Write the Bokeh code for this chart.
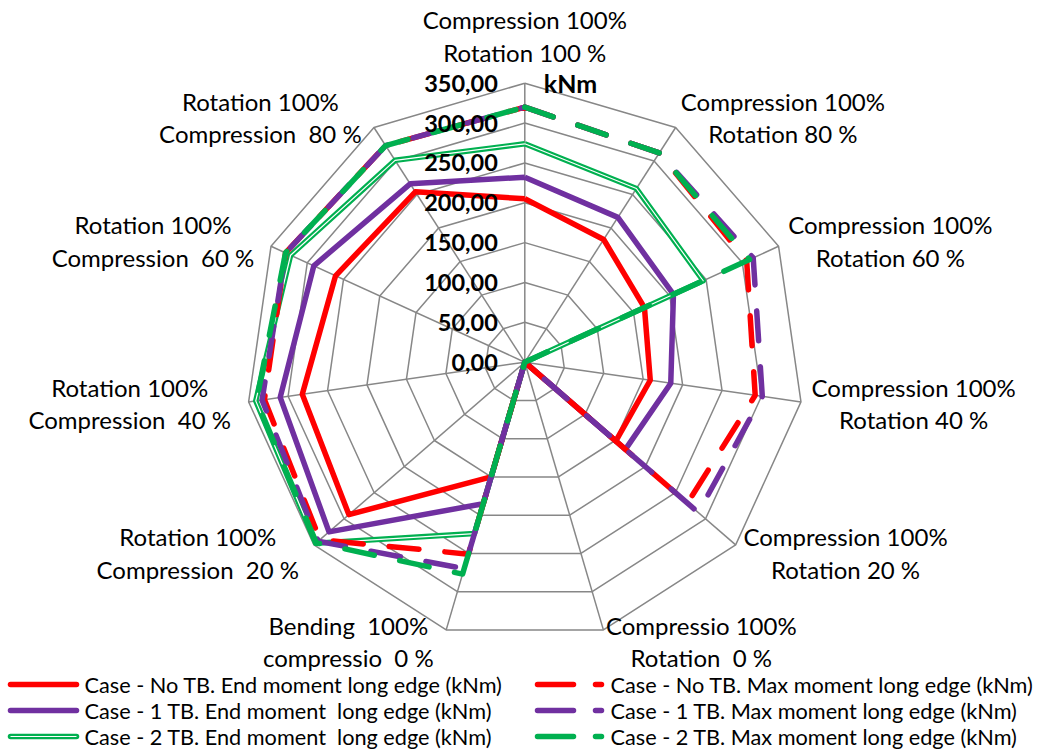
import numpy as np
from bokeh.plotting import figure
from bokeh.models import Range1d
from bokeh.embed import file_html
from bokeh.resources import INLINE
from bokeh.core.properties import value

# ---------------- data ----------------
categories = [
    "Compression 100%\nRotation 100 %",
    "Compression 100%\nRotation 80 %",
    "Compression 100%\nRotation 60 %",
    "Compression 100%\nRotation 40 %",
    "Compression 100%\nRotation 20 %",
    "Compressio 100%\nRotation  0 %",
    "Bending  100%\ncompressio  0 %",
    "Rotation 100%\nCompression  20 %",
    "Rotation 100%\nCompression  40 %",
    "Rotation 100%\nCompression  60 %",
    "Rotation 100%\nCompression  80 %",
]
ticks = [0, 50, 100, 150, 200, 250, 300, 350]
tick_labels = ["0,00", "50,00", "100,00", "150,00", "200,00", "250,00", "300,00", "350,00"]
axis_unit = "kNm"

no_tb_end = [205, 183, 165, 159, 151, 0, 150, 292, 282, 261, 254]
one_tb_end = [232, 216, 205, 185, 167, 0, 185, 325, 310, 291, 266]
two_tb_end = [274, 259, 246, 0, 0, 0, 224, 347, 341, 323, 301]
no_tb_max = [320, 312, 306, 292, 270, 0, 251, 340, 330, 330, 323]
one_tb_max = [320, 312, 315, 301, 288, 0, 270, 343, 333, 330, 323]
two_tb_max = [320, 312, 310, 0, 0, 0, 277, 346, 340, 330, 323]

names_end = ["Case - No TB. End moment long edge (kNm)",
             "Case - 1 TB. End moment  long edge (kNm)",
             "Case - 2 TB. End moment  long edge (kNm)"]
names_max = ["Case - No TB. Max moment long edge (kNm)",
             "Case - 1 TB. Max moment long edge (kNm)",
             "Case - 2 TB. Max moment long edge (kNm)"]

RED, PURPLE, GREEN, GRID = "#FF0000", "#7030A0", "#00B050", "#878787"
FONT = "Lato"

def keep_spaces(t):
    # keep double spaces visible in SVG text
    return t.replace("  ", " \u00a0")

# ---------------- geometry ----------------
W, H = 1051, 749
CX, CY = 524.3, 361.7          # centre in figure pixels
RMAX = ticks[-1]
S = 279.0 / RMAX                # pixels per kNm

def sx(X):  # screen x -> data
    return (X - CX) / S

def sy(Y):  # screen y -> data
    return (CY - Y) / S

n = len(categories)
ang = np.pi / 2 - 2 * np.pi * np.arange(n) / n
cs, sn = np.cos(ang), np.sin(ang)

def poly(vals):
    v = np.asarray(vals, dtype=float)
    xs = list(v * cs) + [v[0] * cs[0]]
    ys = list(v * sn) + [v[0] * sn[0]]
    return xs, ys

p = figure(width=W, height=H, output_backend="svg", toolbar_location=None,
           x_range=Range1d(-CX / S, (W - CX) / S),
           y_range=Range1d(-(H - CY) / S, CY / S),
           x_axis_type=None, y_axis_type=None, min_border=0)
p.grid.visible = False
p.outline_line_color = None
p.background_fill_color = "white"

# grid rings and spokes
ring_xs, ring_ys = [], []
for t in ticks[1:]:
    xs, ys = poly([t] * n)
    ring_xs.append(xs)
    ring_ys.append(ys)
p.multi_line(ring_xs, ring_ys, line_color=GRID, line_width=1.5)
p.multi_line([[0, RMAX * c] for c in cs], [[0, RMAX * s] for s in sn],
             line_color=GRID, line_width=1.5)

# series
W_L = 5.5
DASH = "30 26"
xs, ys = poly(no_tb_end)
p.line(xs, ys, line_color=RED, line_width=W_L, line_join="round")
xs, ys = poly(one_tb_end)
p.line(xs, ys, line_color=PURPLE, line_width=W_L, line_join="round")
xs, ys = poly(two_tb_end)
p.line(xs, ys, line_color=GREEN, line_width=W_L, line_join="round")
p.line(xs, ys, line_color="white", line_width=1.2, line_join="round")
xs, ys = poly(no_tb_max)
p.line(xs, ys, line_color=RED, line_width=W_L, line_dash=DASH, line_cap="round", line_join="round")
xs, ys = poly(one_tb_max)
p.line(xs, ys, line_color=PURPLE, line_width=W_L, line_dash=DASH, line_cap="round", line_join="round")
xs, ys = poly(two_tb_max)
p.line(xs, ys, line_color=GREEN, line_width=W_L, line_dash=DASH, line_cap="round", line_join="round")

# tick labels
p.text(x=[0] * len(ticks), y=ticks, text=tick_labels, x_offset=-27,
       text_align="right", text_baseline="middle", text_font=value(FONT),
       text_font_style="bold", text_font_size="23.5px", text_color="black")
p.text(x=[0], y=[RMAX], text=[axis_unit], x_offset=19, text_align="left",
       text_baseline="middle", text_font=value(FONT), text_font_style="bold",
       text_font_size="25px", text_color="black")

# category labels
RL = 291.0 / S
CHW = 12.6
lx, ly, ltxt, ly_off = [], [], [], []
for i, lab in enumerate(categories):
    ax_, ay_ = RL * cs[i], RL * sn[i]
    wpx = CHW * max(len(t) for t in lab.split("\n"))
    if cs[i] > 0.05:
        ax_ += (wpx / 2) / S
    elif cs[i] < -0.05:
        ax_ -= (wpx / 2) / S
    off = 0
    if i == 0:
        off = -35
    lx.append(ax_)
    ly.append(ay_)
    ltxt.append(keep_spaces(lab))
    ly_off.append(off)
p.text(x=lx, y=ly, text=ltxt, y_offset=ly_off, text_align="center",
       text_baseline="middle", text_font=value(FONT), text_font_size="24px",
       text_color="black", text_line_height=1.13)

# legend (drawn manually)
rows = [684, 710, 736]
cols_end = [RED, PURPLE, GREEN]
for k, Y in enumerate(rows):
    p.line([sx(10), sx(76)], [sy(Y), sy(Y)], line_color=cols_end[k], line_width=W_L,
           line_cap="round")
    if k == 2:
        p.line([sx(10), sx(76)], [sy(Y), sy(Y)], line_color="white", line_width=1.2)
    p.line([sx(537), sx(601)], [sy(Y), sy(Y)], line_color=cols_end[k], line_width=W_L,
           line_dash="36 22", line_cap="round")
p.text(x=[sx(84)] * 3, y=[sy(Y) for Y in rows], text=[keep_spaces(t) for t in names_end],
       text_align="left", text_baseline="middle", text_font=value(FONT),
       text_font_size="21.7px", text_color="black")
p.text(x=[sx(610)] * 3, y=[sy(Y) for Y in rows], text=[keep_spaces(t) for t in names_max],
       text_align="left", text_baseline="middle", text_font=value(FONT),
       text_font_size="21.7px", text_color="black")

open("out.html", "w").write(file_html(p, INLINE))
